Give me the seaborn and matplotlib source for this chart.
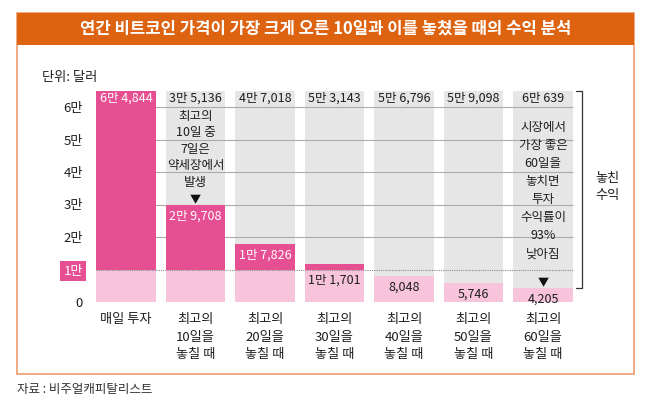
import numpy as np
import matplotlib.pyplot as plt
import matplotlib.patches as mpatches
import seaborn as sns

# 값 (단위: 달러)
categories = ['매일 투자', '최고의\n10일을\n놓칠 때', '최고의\n20일을\n놓칠 때', '최고의\n30일을\n놓칠 때',
              '최고의\n40일을\n놓칠 때', '최고의\n50일을\n놓칠 때', '최고의\n60일을\n놓칠 때']
returns = [64844, 29708, 17826, 11701, 8048, 5746, 4205]
missed = [0, 35136, 47018, 53143, 56796, 59098, 60639]
y_ticks = [0, 10000, 20000, 30000, 40000, 50000, 60000]
y_tick_labels = ['0', '1만', '2만', '3만', '4만', '5만', '6만']
threshold = 10000

ORANGE = '#DE6311'
BORDER = '#F0A476'
HOT = '#E64F92'
LIGHT = '#F7C4DB'
GRAY = '#E6E6E6'
TXT = '#1E1E1E'


def won_fmt(v):
    man, rest = divmod(int(v), 10000)
    return f'{man}만 {rest:,}' if man else f'{rest:,}'


sns.set_theme(style='white')
plt.rcParams['font.family'] = ['Noto Sans CJK KR', 'DejaVu Sans']

W, H = 650, 412
fig = plt.figure(figsize=(W / 100, H / 100), dpi=100)
fig.patch.set_facecolor('white')

# 테두리와 제목 띠
fig.patches.append(mpatches.Rectangle((17 / W, 1 - 374 / H), 617 / W, 361 / H, transform=fig.transFigure,
                                      facecolor='none', edgecolor=BORDER, lw=1.3, zorder=0))
fig.patches.append(mpatches.Rectangle((17 / W, 1 - 45 / H), 617 / W, 32 / H, transform=fig.transFigure,
                                      facecolor=ORANGE, edgecolor='none', zorder=0))
fig.text(325.5 / W, 1 - 29 / H, '연간 비트코인 가격이 가장 크게 오른 10일과 이를 놓쳤을 때의 수익 분석',
         ha='center', va='center', color='white', fontsize=12, fontweight='bold')
fig.text(42 / W, 1 - 77 / H, '단위: 달러', ha='left', va='center', color=TXT, fontsize=9.5)
fig.text(17 / W, 1 - 390 / H, '자료 : 비주얼캐피탈리스트', ha='left', va='center', color='#333333', fontsize=9)

ax = fig.add_axes([91.25 / W, (H - 302) / H, 486.5 / W, 214.5 / H])
totals = np.array(returns) + np.array(missed)
light = np.minimum(returns, threshold)

sns.barplot(x=categories, y=totals, color=GRAY, width=0.86, saturation=1, linewidth=0, ax=ax, zorder=1)
ax.hlines(y_ticks[2:], -0.43, 6.43, color='#ABABAB', lw=0.8, zorder=1.5)
sns.barplot(x=categories, y=returns, color=HOT, width=0.86, saturation=1, linewidth=0, ax=ax, zorder=2)
sns.barplot(x=categories, y=light, color=LIGHT, width=0.86, saturation=1, linewidth=0, ax=ax, zorder=3)
ax.hlines(threshold, -0.43, 6.43, color='#8A8A8A', lw=0.8, linestyles=(0, (1, 1)), zorder=4)

ax.set_xlim(-0.5, 6.5)
ax.set_ylim(0, 66000)
ax.set_xlabel('')
ax.set_ylabel('')
for s in ax.spines.values():
    s.set_visible(False)
ax.set_yticks(y_ticks, y_tick_labels)
ax.tick_params(axis='y', length=0, pad=6, labelsize=9.5, labelcolor=TXT)
ax.tick_params(axis='x', length=0, pad=8, labelsize=9.5, labelcolor=TXT)
for lab in ax.get_xticklabels():
    lab.set_linespacing(1.45)
one = ax.get_yticklabels()[1]
one.set_color('white')
one.set_bbox(dict(facecolor=HOT, edgecolor='none', boxstyle='square,pad=0.25'))

# 막대 값
for i, (r, m, t) in enumerate(zip(returns, missed, totals)):
    if m:
        ax.annotate(won_fmt(m), (i, t), xytext=(0, -7), textcoords='offset pixels',
                    ha='center', va='center', fontsize=9, color=TXT, zorder=5)
    hot = r > threshold * 1.5
    y = r if hot or r < threshold else threshold
    ax.annotate(won_fmt(r), (i, y), xytext=(0, -7 if i == 0 else -11), textcoords='offset pixels',
                ha='center', va='center', fontsize=9, color='white' if hot else TXT, zorder=5)

# 설명
ax.text(1, 47000, '최고의\n10일 중\n7일은\n약세장에서\n발생', ha='center', va='center',
        fontsize=9, color=TXT, linespacing=1.35, zorder=5)
ax.text(6, 34200, '시장에서\n가장 좋은\n60일을\n놓치면\n투자\n수익률이\n93%\n낮아짐', ha='center', va='center',
        fontsize=9, color=TXT, linespacing=1.5, zorder=5)
for i in (1, 6):
    ax.annotate('▼', (i, returns[i]), xytext=(0, 0), textcoords='offset pixels',
                ha='center', va='bottom', fontsize=8, color='#111111', zorder=5)

# 놓친 수익 괄호
bx, tk = 6.56, 6.48
ax.plot([tk, bx, bx, tk], [totals[-1], totals[-1], returns[-1], returns[-1]], color='#333333', lw=0.9,
        clip_on=False, zorder=5)
fig.text(607 / W, 1 - 187 / H, '놓친\n수익', ha='center', va='center', fontsize=9.5, color=TXT, linespacing=1.45)

fig.savefig('out.png', dpi=100)
